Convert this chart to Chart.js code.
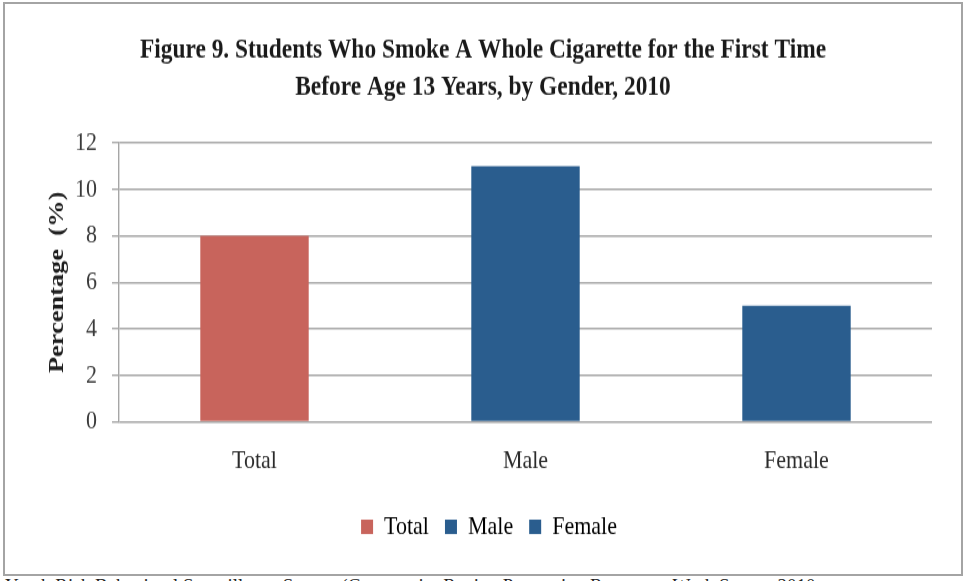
<!DOCTYPE html>
<html>
<head>
<meta charset="utf-8">
<script src="https://cdn.jsdelivr.net/npm/chart.js@4/dist/chart.umd.min.js"></script>
<style>
  html, body { margin: 0; padding: 0; background: #fff; overflow: hidden; }
  #frame {
    position: absolute; left: 3px; top: 2px; width: 956px; height: 570px;
    border: 2px solid #a4a4a4;
  }
  /* the figure is drawn a little squat and stretched tall, like the exported image */
  #wrap {
    position: absolute; left: 0; top: 0; width: 965px; height: 484px;
    transform: scaleY(1.2); transform-origin: 0 0;
  }
  #source {
    position: absolute; left: 5px; top: 575px; white-space: nowrap;
    font: 19px "Liberation Serif", serif; color: #222;
  }
</style>
</head>
<body>
<div id="frame"></div>
<div id="source">Youth Risk Behavioral Surveillance Survey (Community Region Prevention Resources Work Survey 2010</div>
<div id="wrap"><canvas id="chart"></canvas></div>
<script>
// Figure 9 data
const categories = ['Total', 'Male', 'Female'];
const percentages = [8, 11, 5];
const barColors = ['#C8645C', '#2A5D8E', '#2A5D8E'];
const yTicks = [0, 2, 4, 6, 8, 10, 12];

const serif = '"Liberation Serif", "Times New Roman", serif';

// centre the title and legend on the whole frame rather than the padded area
const centreOnFrame = {
  id: 'centreOnFrame',
  afterLayout(chart) {
    chart.titleBlock.left += 17;
    chart.titleBlock.right += 17;
    chart.legend.left += 23;
    chart.legend.right += 23;
  }
};

const ctx = document.getElementById('chart').getContext('2d');
window.figureChart = new Chart(ctx, {
  type: 'bar',
  data: {
    labels: categories,
    datasets: [{
      label: 'Percentage',
      data: percentages,
      backgroundColor: barColors,
      borderWidth: 0,
      barPercentage: 0.4,
      categoryPercentage: 1.0
    }]
  },
  options: {
    responsive: true,
    maintainAspectRatio: false,
    animation: false,
    layout: {
      padding: { left: 0, right: 33, top: 0, bottom: 24 }
    },
    scales: {
      x: {
        grid: { display: false, drawTicks: false },
        border: { display: false },
        ticks: {
          padding: 19.3,
          color: '#2b2b2b',
          font: { family: serif, size: 22 }
        },
        afterFit: function(scale) { scale.height = 60.5; }
      },
      y: {
        min: 0,
        max: 12,
        afterBuildTicks: function(scale) {
          scale.ticks = yTicks.map(v => ({ value: v }));
        },
        grid: {
          color: '#a6a6a6',
          lineWidth: 1.4,
          drawTicks: true,
          tickLength: 7
        },
        border: { display: true, color: '#a6a6a6', width: 1.4 },
        ticks: {
          padding: 15,
          color: '#3a3a3a',
          font: { family: serif, size: 22 }
        },
        title: {
          display: true,
          text: 'Percentage  (%)',
          color: '#1e1e1e',
          padding: { top: 44, bottom: 0 },
          font: { family: serif, size: 22, weight: 'bold' }
        },
        afterFit: function(scale) { scale.width = 119; }
      }
    },
    plugins: {
      title: {
        display: true,
        text: [
          'Figure 9. Students Who Smoke A Whole Cigarette for the First Time',
          'Before Age 13 Years, by Gender, 2010'
        ],
        color: '#1a1a1a',
        font: { family: serif, size: 23.4, weight: 'bold', lineHeight: 1.3533 },
        padding: { top: 25.83, bottom: 30 }
      },
      legend: {
        position: 'bottom',
        labels: {
          boxWidth: 12,
          boxHeight: 12,
          padding: 16,
          color: '#2b2b2b',
          font: { family: serif, size: 22 },
          generateLabels: function() {
            // one legend entry per category, coloured like its bar
            return categories.map((name, i) => ({
              text: name,
              fillStyle: barColors[i],
              strokeStyle: barColors[i],
              lineWidth: 0,
              hidden: false,
              index: i
            }));
          }
        },
        onClick: null
      },
      tooltip: { enabled: false }
    }
  },
  plugins: [centreOnFrame]
});
</script>
</body>
</html>
